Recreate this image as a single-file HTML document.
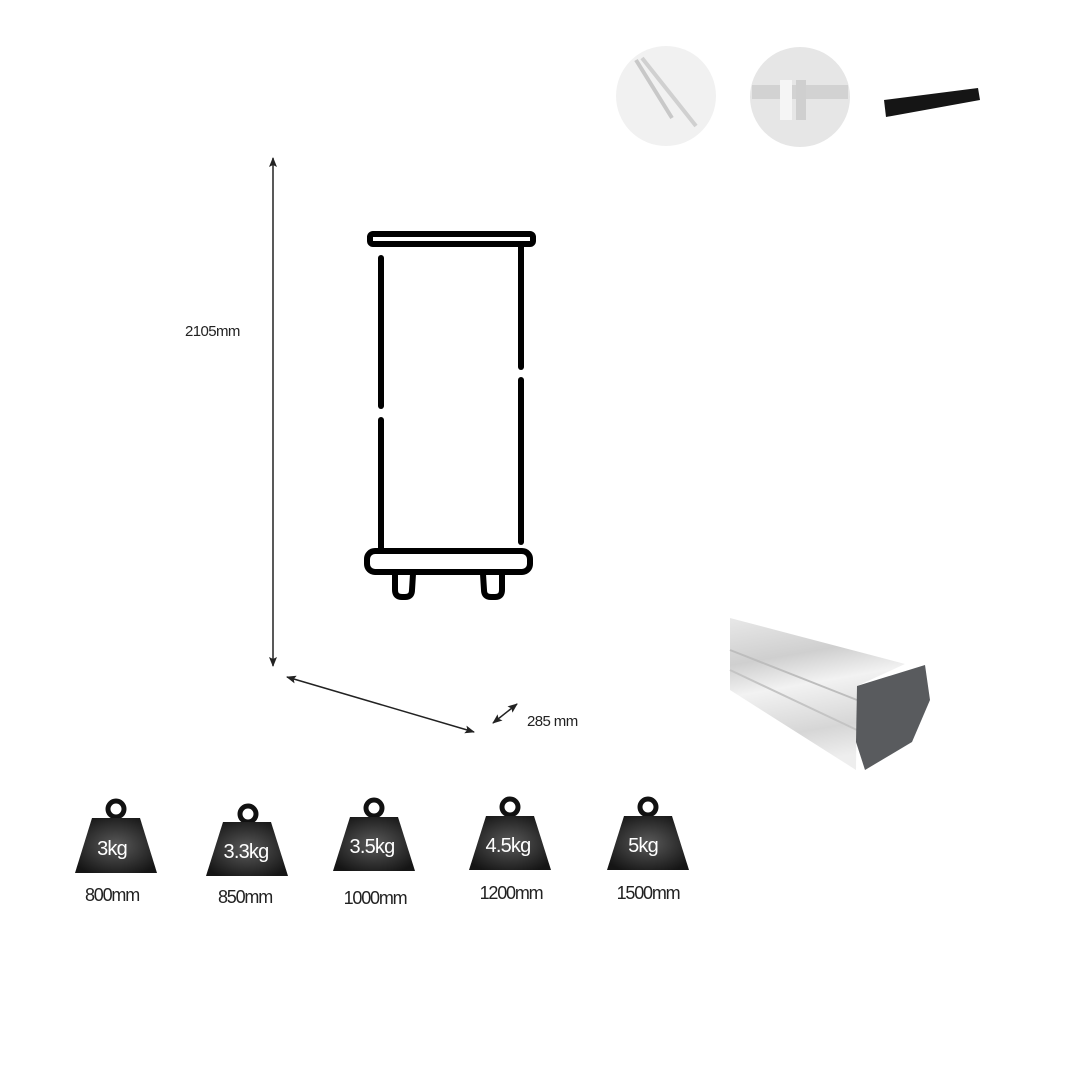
<!DOCTYPE html>
<html><head><meta charset="utf-8"><style>
html,body{margin:0;padding:0;background:#fff;}
svg{display:block;}
text{font-family:"Liberation Sans",sans-serif;}
</style></head><body>
<svg width="1080" height="1080" viewBox="0 0 1080 1080" xmlns="http://www.w3.org/2000/svg">
<defs>
<marker id="ah" markerWidth="10" markerHeight="8" refX="9" refY="4" orient="auto-start-reverse" markerUnits="userSpaceOnUse">
<path d="M0,0 L10,4 L0,8 L2,4 Z" fill="#222"/></marker>
<radialGradient id="wg" cx="50%" cy="50%" r="60%"><stop offset="0" stop-color="#5a5a5a"/><stop offset="1" stop-color="#151515"/></radialGradient>
<linearGradient id="alu" x1="0" y1="0" x2="0.2" y2="1"><stop offset="0" stop-color="#e8e8e8"/><stop offset="0.3" stop-color="#cfcfcf"/><stop offset="0.5" stop-color="#f2f2f2"/><stop offset="0.8" stop-color="#d6d6d6"/><stop offset="1" stop-color="#eeeeee"/></linearGradient>
</defs>

<circle cx="666" cy="96" r="50" fill="#f1f1f1"/>
<line x1="636" y1="60" x2="672" y2="118" stroke="#c8c8c8" stroke-width="4"/>
<line x1="642" y1="58" x2="696" y2="126" stroke="#d0d0d0" stroke-width="4"/>
<circle cx="800" cy="97" r="50" fill="#e6e6e6"/>
<rect x="752" y="85" width="96" height="14" fill="#d2d2d2"/>
<rect x="780" y="80" width="12" height="40" fill="#f5f5f5"/>
<rect x="796" y="80" width="10" height="40" fill="#cfcfcf"/>
<polygon points="884,100 978,88 980,100 886,117" fill="#151515"/>

<line x1="273" y1="158" x2="273" y2="666" stroke="#222" stroke-width="1.5" marker-start="url(#ah)" marker-end="url(#ah)"/>
<text x="185" y="336" font-size="15" fill="#222" letter-spacing="-0.6">2105mm</text>

<g fill="none" stroke="#000" stroke-width="6" stroke-linecap="round">
<rect x="370" y="234" width="163" height="10" rx="3"/>
<line x1="381" y1="258" x2="381" y2="406"/>
<line x1="381" y1="420" x2="381" y2="550"/>
<line x1="521" y1="246" x2="521" y2="367"/>
<line x1="521" y1="380" x2="521" y2="542"/>
<rect x="367" y="551" width="163" height="21" rx="8"/>
<path d="M395,574 L395,590 Q395,597 402,597 L405,597 Q412,597 412,590 L413,574"/>
<path d="M483,574 L484,590 Q484,597 491,597 L495,597 Q502,597 502,590 L502,574"/>
</g>

<line x1="287" y1="677" x2="474" y2="732" stroke="#222" stroke-width="1.5" marker-start="url(#ah)" marker-end="url(#ah)"/>
<line x1="493" y1="723" x2="517" y2="704" stroke="#222" stroke-width="1.5" marker-start="url(#ah)" marker-end="url(#ah)"/>
<text x="527" y="726" font-size="15" fill="#222" letter-spacing="-0.6">285 mm</text>

<polygon points="730,618 905,664 857,686 856,770 730,690" fill="url(#alu)"/>
<line x1="730" y1="650" x2="857" y2="700" stroke="#bdbdbd" stroke-width="2"/>
<line x1="730" y1="670" x2="857" y2="730" stroke="#c4c4c4" stroke-width="2"/>
<polygon points="857,686 925,665 930,700 912,742 865,770 856,742" fill="#595b5e"/>

<g>
<circle cx="116" cy="809" r="8" fill="none" stroke="#111" stroke-width="5"/>
<polygon points="92,818 140,818 157,873 75,873" fill="url(#wg)"/>
<text x="112" y="855" font-size="20" fill="#fff" text-anchor="middle" letter-spacing="-0.8">3kg</text>
<text x="112" y="901" font-size="18" fill="#222" text-anchor="middle" letter-spacing="-1.2">800mm</text>

<circle cx="248" cy="814" r="8" fill="none" stroke="#111" stroke-width="5"/>
<polygon points="223,822 271,822 288,876 206,876" fill="url(#wg)"/>
<text x="246" y="858" font-size="20" fill="#fff" text-anchor="middle" letter-spacing="-0.8">3.3kg</text>
<text x="245" y="903" font-size="18" fill="#222" text-anchor="middle" letter-spacing="-1.2">850mm</text>

<circle cx="374" cy="808" r="8" fill="none" stroke="#111" stroke-width="5"/>
<polygon points="350,817 398,817 415,871 333,871" fill="url(#wg)"/>
<text x="372" y="853" font-size="20" fill="#fff" text-anchor="middle" letter-spacing="-0.8">3.5kg</text>
<text x="375" y="904" font-size="18" fill="#222" text-anchor="middle" letter-spacing="-1.2">1000mm</text>

<circle cx="510" cy="807" r="8" fill="none" stroke="#111" stroke-width="5"/>
<polygon points="486,816 534,816 551,870 469,870" fill="url(#wg)"/>
<text x="508" y="852" font-size="20" fill="#fff" text-anchor="middle" letter-spacing="-0.8">4.5kg</text>
<text x="511" y="899" font-size="18" fill="#222" text-anchor="middle" letter-spacing="-1.2">1200mm</text>

<circle cx="648" cy="807" r="8" fill="none" stroke="#111" stroke-width="5"/>
<polygon points="624,816 672,816 689,870 607,870" fill="url(#wg)"/>
<text x="643" y="852" font-size="20" fill="#fff" text-anchor="middle" letter-spacing="-0.8">5kg</text>
<text x="648" y="899" font-size="18" fill="#222" text-anchor="middle" letter-spacing="-1.2">1500mm</text>
</g>
</svg>
</body></html>
